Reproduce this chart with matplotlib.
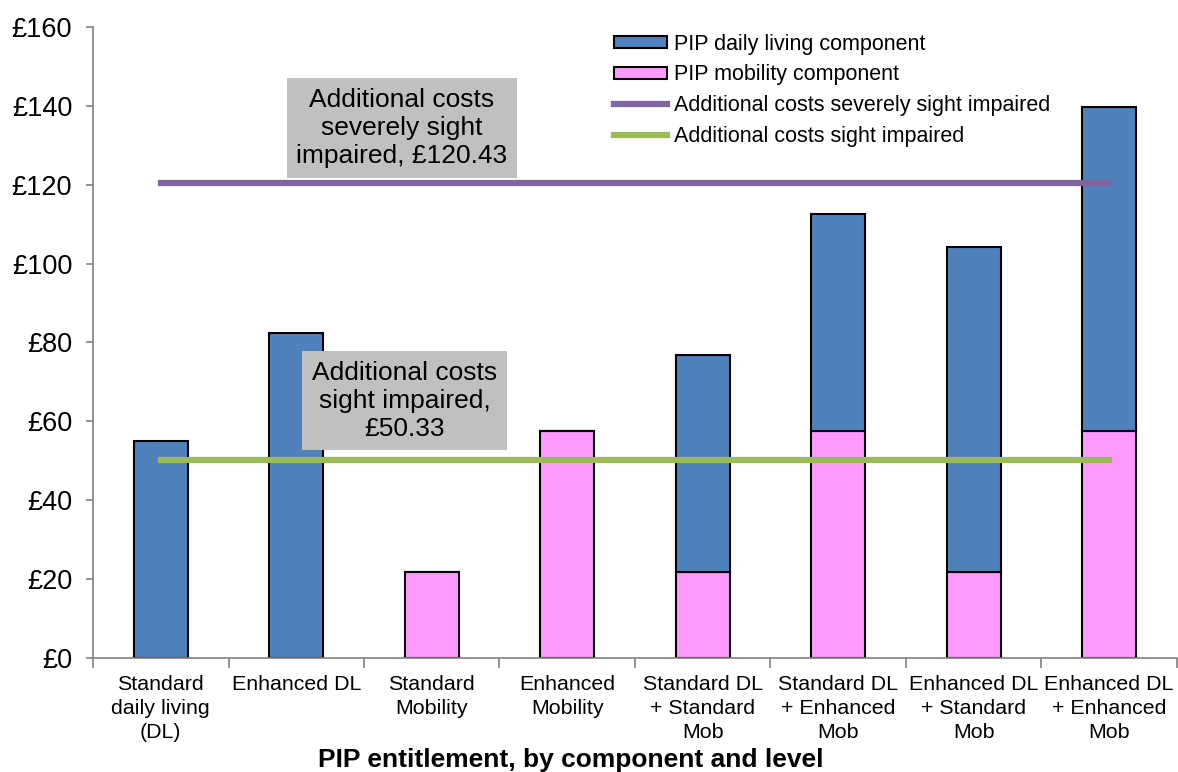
import matplotlib.pyplot as plt
import numpy as np

plt.rcParams['font.family'] = ['Liberation Sans', 'DejaVu Sans']

categories = ["Standard\ndaily living\n(DL)", "Enhanced DL", "Standard\nMobility",
              "Enhanced\nMobility", "Standard DL\n+ Standard\nMob", "Standard DL\n+ Enhanced\nMob",
              "Enhanced DL\n+ Standard\nMob", "Enhanced DL\n+ Enhanced\nMob"]
daily_living = [55.10, 82.30, 0, 0, 55.10, 55.10, 82.30, 82.30]
mobility = [0, 0, 21.80, 57.45, 21.80, 57.45, 21.80, 57.45]
severe_cost = 120.43
sight_cost = 50.33

x = np.arange(len(categories))

fig = plt.figure(figsize=(11.78, 7.72), dpi=100)
ax = fig.add_axes([0.079, 0.1477, 0.92, 0.8173])

# stacked bars: mobility at the bottom, daily living on top
mob = ax.bar(x, mobility, width=0.4, color="#FF99FF", edgecolor="black", linewidth=1.5,
             label="PIP mobility component", zorder=2)
dl = ax.bar(x, daily_living, width=0.4, bottom=mobility, color="#4F81BD", edgecolor="black",
            linewidth=1.5, label="PIP daily living component", zorder=2)

l1, = ax.plot(x, [severe_cost] * len(x), color="#8064A2", linewidth=4.5,
              label="Additional costs severely sight impaired", zorder=3)
l2, = ax.plot(x, [sight_cost] * len(x), color="#9BBB59", linewidth=4.5,
              label="Additional costs sight impaired", zorder=3)

box = dict(facecolor="#C0C0C0", edgecolor="none", pad=7)
ax.text(1.78, 134.4, "Additional costs\nseverely sight\nimpaired, £%.2f" % severe_cost,
        ha="center", va="center", fontsize=19, bbox=box, zorder=4, linespacing=1.2)
ax.text(1.80, 65.2, "Additional costs\nsight impaired,\n£%.2f" % sight_cost,
        ha="center", va="center", fontsize=19, bbox=box, zorder=4, linespacing=1.2)

ax.set_xlim(-0.5, len(x) - 0.5)
ax.set_ylim(0, 160)
ax.set_yticks(range(0, 161, 20))
ax.set_yticklabels(["£%d" % v for v in range(0, 161, 20)], fontsize=19.5)

ax.set_xticks(x)
ax.set_xticklabels(categories, fontsize=15.4)
for t in ax.xaxis.get_major_ticks():
    t.label1.set_linespacing(1.33)
ax.set_xticks(np.arange(-0.5, len(x), 1), minor=True)
ax.tick_params(axis="x", which="major", length=0, pad=12)
ax.tick_params(axis="x", which="minor", length=7, color="#808080", width=1.2)
ax.tick_params(axis="y", length=5, color="#808080", width=1.2, pad=10)

for s in ["top", "right"]:
    ax.spines[s].set_visible(False)
for s in ["left", "bottom"]:
    ax.spines[s].set_color("#808080")
    ax.spines[s].set_linewidth(1.2)

ax.set_xlabel("PIP entitlement, by component and level", fontsize=19, fontweight="bold")
ax.xaxis.set_label_coords(0.441, -0.162)
ax.xaxis.label.set_va("center")

ax.legend([dl, mob, l1, l2],
          [dl.get_label(), mob.get_label(), l1.get_label(), l2.get_label()],
          loc="upper left", bbox_to_anchor=(605 / 1178, 1 - 25 / 772),
          bbox_transform=fig.transFigure, frameon=False, fontsize=15.5,
          handlelength=2.5, handleheight=0.5, handletextpad=0.3, labelspacing=0.45,
          borderaxespad=0)

plt.savefig("out.png", dpi=100)
plt.close()
